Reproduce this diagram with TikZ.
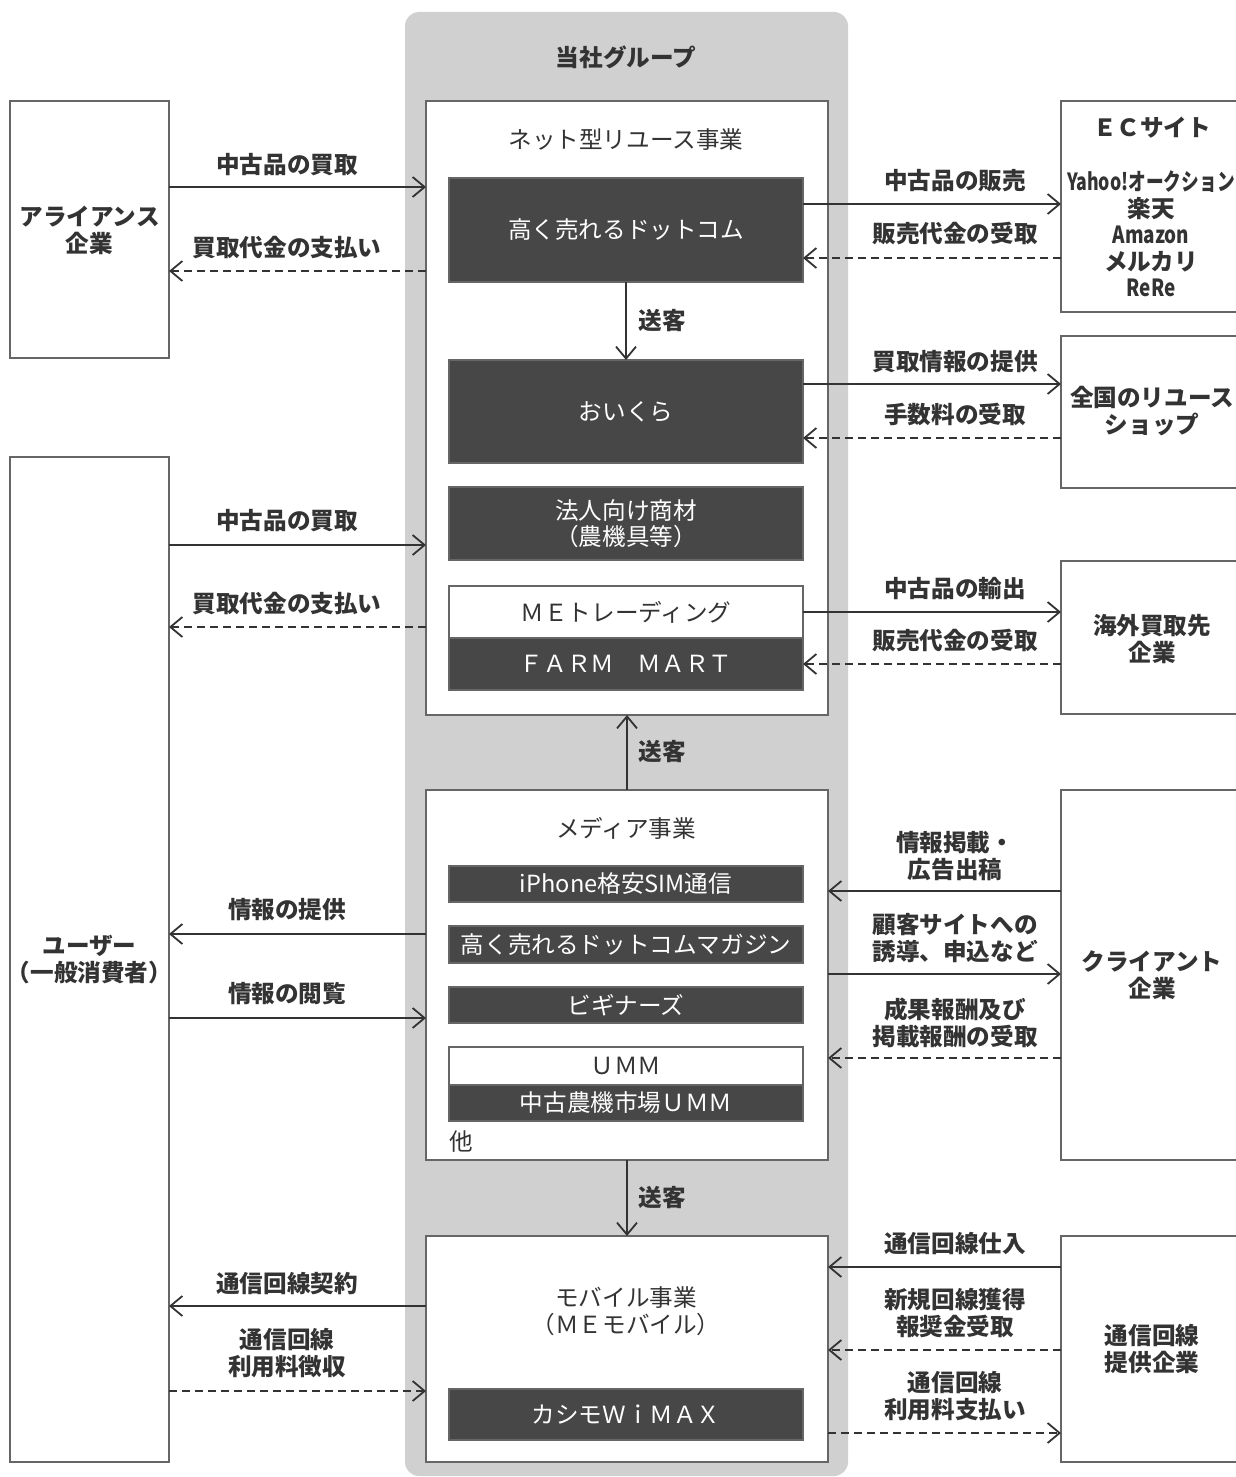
\documentclass[tikz,border=0pt]{standalone}
\usepackage{fontspec}
\usepackage{graphicx}
\setmainfont{Noto Sans CJK JP}
\usetikzlibrary{arrows.meta}
\definecolor{groupgray}{HTML}{D0D0D0}
\definecolor{boxline}{HTML}{666666}
\definecolor{darkfill}{HTML}{474747}
\definecolor{ink}{HTML}{333333}
\begin{document}
\begin{tikzpicture}[x=0.5pt,y=-0.5pt,
  every node/.style={inner sep=0pt, outer sep=0pt, text=ink, font=\fontsize{11.8pt}{13.5pt}\selectfont},
  outbox/.style={draw=boxline, line width=1pt, fill=white, minimum width=#1},
  outbox/.default=79.5pt,
  darkbox/.style={draw=boxline, line width=0.8pt, fill=darkfill, minimum width=177pt, text=white},
  litebox/.style={draw=boxline, line width=0.8pt, fill=white, minimum width=177pt},
  lbl/.style={font=\fontsize{11.8pt}{13.5pt}\selectfont\bfseries, align=center},
  arr/.style={draw=ink, line width=0.9pt, -{Straight Barb[length=6pt,width=10pt]}},
  back/.style={arr, dash pattern=on 4pt off 2.5pt}]
\useasboundingbox (0,0) rectangle (1236,1477);
\clip (0,0) rectangle (1236,1477);
% group background
\fill[groupgray, rounded corners=7pt] (405,12) rectangle (848,1476);
\node[lbl] (grp) at (626,57){当社グループ};
% outer boxes
\node[outbox, minimum height=128.5pt] (ally) at (89.5,229.5){};
\node[outbox, minimum height=502.5pt] (user) at (89.5,959.5){};
\node[outbox=201pt, minimum height=307pt] (net) at (627,408){};
\node[outbox=201pt, minimum height=185pt] (media) at (627,975){};
\node[outbox=201pt, minimum height=113pt] (mobile) at (627,1349){};
\node[outbox=90.5pt, minimum height=105.5pt] (ec) at (1151.5,206.5){};
\node[outbox=90.5pt, minimum height=76pt] (shop) at (1151.5,412){};
\node[outbox=90.5pt, minimum height=76.5pt] (abroad) at (1151.5,637.5){};
\node[outbox=90.5pt, minimum height=185pt] (client) at (1151.5,975){};
\node[outbox=90.5pt, minimum height=113pt] (carrier) at (1151.5,1349){};
% texts of outer boxes
\node[lbl] (allyt) at (89.5,230){アライアンス\\企業};
\node[lbl] (usert) at (89.5,960){ユーザー\\（一般消費者）};
\node[lbl] (ect) at (1152,128){ＥＣサイト};
\node[lbl, font=\fontsize{11.8pt}{13.2pt}\selectfont\bfseries] (ecl) at (1151,234){\scalebox{0.75}[1]{Yahoo!オークション}\\楽天\\\scalebox{0.8}[1]{Amazon}\\メルカリ\\\scalebox{0.8}[1]{ReRe}};
\node[lbl] (shopt) at (1152,411){全国のリユース\\ショップ};
\node[lbl] (abroadt) at (1152,639){海外買取先\\企業};
\node[lbl] (clientt) at (1152,975){クライアント\\企業};
\node[lbl] (carriert) at (1152,1349){通信回線\\提供企業};
% net reuse business
\node (nett) at (626,140){ネット型リユース事業};
\node[darkbox, minimum height=52pt] (takaku) at (626,230){高く売れるドットコム};
\node[darkbox, minimum height=51.5pt] (oikura) at (626,411.5){おいくら};
\node[darkbox, minimum height=36.5pt, align=center, font=\fontsize{11.8pt}{13pt}\selectfont] (houjin) at (626,523.5){法人向け商材\\（農機具等）};
\node[litebox, minimum height=26pt] (metr) at (626,612){ＭＥトレーディング};
\node[darkbox, minimum height=26pt] (farm) at (626,664){ＦＡＲＭ　ＭＡＲＴ};
% media business
\node (mediat) at (626,828){メディア事業};
\node[darkbox, minimum height=18pt] (iphone) at (626,884){iPhone格安SIM通信};
\node[darkbox, minimum height=18.5pt] (magazine) at (626,944.5){高く売れるドットコムマガジン};
\node[darkbox, minimum height=18pt] (beginners) at (626,1005){ビギナーズ};
\node[litebox, minimum height=19pt] (umm) at (626,1066){ＵＭＭ};
\node[darkbox, minimum height=18pt] (ummjp) at (626,1103){中古農機市場ＵＭＭ};
\node (others) at (461,1142){他};
% mobile business
\node[align=center] (mobilet) at (626,1311.5){モバイル事業\\（ＭＥモバイル）};
\node[darkbox, minimum height=25.5pt] (wimax) at (626,1414.5){カシモＷｉＭＡＸ};
% sending customers
\draw[arr](takaku) -- (oikura);
\draw[arr](media) -- (net);
\draw[arr](media) -- (mobile);
\node[lbl] (send1) at (662,321){送客};
\node[lbl] (send2) at (662,752){送客};
\node[lbl] (send3) at (662,1198){送客};
% alliance
\draw[arr](ally.east |- 0,187) -- (net.west |- 0,187);
\draw[back](net.west |- 0,271) -- (ally.east |- 0,271);
\node[lbl] (l1) at (287,165){中古品の買取};
\node[lbl] (l2) at (287,248){買取代金の支払い};
% EC sites
\draw[arr](takaku.east |- 0,204) -- (ec.west |- 0,204);
\draw[back](ec.west |- 0,258) -- (takaku.east |- 0,258);
\node[lbl] (r1) at (955,181){中古品の販売};
\node[lbl] (r2) at (955,234){販売代金の受取};
% reuse shops
\draw[arr](oikura.east |- 0,384) -- (shop.west |- 0,384);
\draw[back](shop.west |- 0,438) -- (oikura.east |- 0,438);
\node[lbl] (r3) at (955,362){買取情報の提供};
\node[lbl] (r4) at (955,414){手数料の受取};
% user and net
\draw[arr](user.east |- 0,545) -- (net.west |- 0,545);
\draw[back](net.west |- 0,627) -- (user.east |- 0,627);
\node[lbl] (l3) at (287,521){中古品の買取};
\node[lbl] (l4) at (287,604){買取代金の支払い};
% abroad
\draw[arr](metr.east |- 0,612) -- (abroad.west |- 0,612);
\draw[back](abroad.west |- 0,664) -- (farm.east |- 0,664);
\node[lbl] (r5) at (955,589){中古品の輸出};
\node[lbl] (r6) at (955,641){販売代金の受取};
% user and media
\draw[arr](media.west |- 0,934) -- (user.east |- 0,934);
\draw[arr](user.east |- 0,1018) -- (media.west |- 0,1018);
\node[lbl] (l5) at (287,910){情報の提供};
\node[lbl] (l6) at (287,994){情報の閲覧};
% client
\draw[arr](client.west |- 0,891) -- (media.east |- 0,891);
\draw[arr](media.east |- 0,974) -- (client.west |- 0,974);
\draw[back](client.west |- 0,1058) -- (media.east |- 0,1058);
\node[lbl] (r7) at (955,856.5){情報掲載・\\広告出稿};
\node[lbl] (r8) at (955,938.5){顧客サイトへの\\誘導、申込など};
\node[lbl] (r9) at (955,1022.5){成果報酬及び\\掲載報酬の受取};
% user and mobile
\draw[arr](mobile.west |- 0,1306) -- (user.east |- 0,1306);
\draw[back](user.east |- 0,1391) -- (mobile.west |- 0,1391);
\node[lbl] (l7) at (287,1284){通信回線契約};
\node[lbl] (l8) at (287,1353.5){通信回線\\利用料徴収};
% carrier
\draw[arr](carrier.west |- 0,1267) -- (mobile.east |- 0,1267);
\draw[back](carrier.west |- 0,1350) -- (mobile.east |- 0,1350);
\draw[back](mobile.east |- 0,1433) -- (carrier.west |- 0,1433);
\node[lbl] (r10) at (955,1243){通信回線仕入};
\node[lbl] (r11) at (955,1313.5){新規回線獲得\\報奨金受取};
\node[lbl] (r12) at (955,1396.5){通信回線\\利用料支払い};
\end{tikzpicture}
\end{document}
